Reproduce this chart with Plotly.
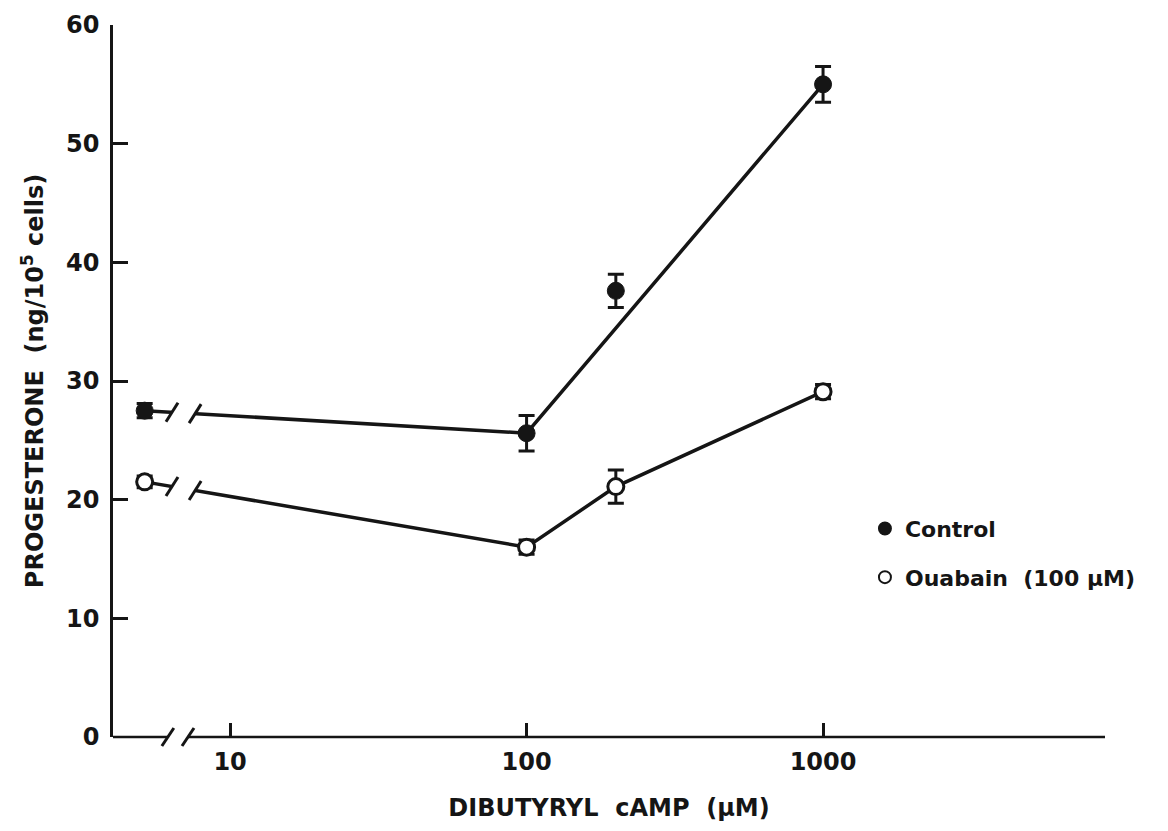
import numpy as np
import plotly.graph_objects as go

# ---- data ----
dose_labels = ["0", "100", "200", "1000"]          # dibutyryl cAMP, µM
dose_plot_pos = [5.15, 100, 200, 1000]             # zero dose drawn left of the axis break
control_mean = [27.5, 25.6, 37.6, 55.0]
control_err = [0.6, 1.5, 1.4, 1.5]
ouabain_mean = [21.5, 16.0, 21.1, 29.1]
ouabain_err = [0.5, 0.6, 1.4, 0.6]
control_line_idx = [0, 1, 3]                       # points joined by the drawn control line
ouabain_line_idx = [0, 1, 2, 3]
x_tick_vals = [10, 100, 1000]
x_tick_text = ["10", "100", "1000"]
y_tick_vals = [0, 10, 20, 30, 40, 50, 60]

INK = "#151515"
FONT = "DejaVu Sans"
x_log_range = [0.605, 3.951]
y_range = [0, 60]
break_px = [0.804, 0.882]      # log10 positions of break marks on data lines
axis_break = [0.79, 0.858]     # log10 positions of break marks on x axis

fig = go.Figure()

def sub(arr, idx):
    return [arr[i] for i in idx]

fig.add_trace(go.Scatter(x=sub(dose_plot_pos, control_line_idx), y=sub(control_mean, control_line_idx),
                         mode="lines", line=dict(color=INK, width=3.5), showlegend=False, hoverinfo="skip"))
fig.add_trace(go.Scatter(x=sub(dose_plot_pos, ouabain_line_idx), y=sub(ouabain_mean, ouabain_line_idx),
                         mode="lines", line=dict(color=INK, width=3.5), showlegend=False, hoverinfo="skip"))

fig.add_trace(go.Scatter(x=dose_plot_pos, y=control_mean, mode="markers", name="Control",
                         legendgroup="c",
                         marker=dict(symbol="circle", size=17, color=INK, line=dict(color=INK, width=1)),
                         error_y=dict(type="data", array=control_err, visible=True, color=INK,
                                      thickness=3, width=8),
                         text=dose_labels))
fig.add_trace(go.Scatter(x=dose_plot_pos, y=ouabain_mean, mode="markers", name="Ouabain  (100 μM)",
                         legendgroup="o",
                         marker=dict(symbol="circle", size=16, color="white", line=dict(color=INK, width=3)),
                         error_y=dict(type="data", array=ouabain_err, visible=True, color=INK,
                                      thickness=3, width=8),
                         text=dose_labels))

def to_px(lv):
    return (lv - x_log_range[0]) / (x_log_range[1] - x_log_range[0])

def to_py(v):
    return (v - y_range[0]) / (y_range[1] - y_range[0])

pw = 1 / 992   # paper units per pixel (x)
ph = 1 / 712   # paper units per pixel (y)

shapes = []
# break marks on the two data lines (gap between zero-dose point and 100 µM)
lx0, lx1 = np.log10(dose_plot_pos[0]), np.log10(dose_plot_pos[1])
for means in (control_mean, ouabain_mean):
    ys = [to_py(means[0] + (means[1] - means[0]) * (b - lx0) / (lx1 - lx0)) for b in break_px]
    shapes.append(dict(type="rect", xref="paper", yref="paper", x0=to_px(break_px[0]), x1=to_px(break_px[1]),
                       y0=min(ys) - 4 * ph, y1=max(ys) + 4 * ph,
                       fillcolor="white", line=dict(width=0), layer="above"))
    for b, yy in zip(break_px, ys):
        xp = to_px(b)
        shapes.append(dict(type="line", xref="paper", yref="paper",
                           x0=xp - 6 * pw, x1=xp + 6 * pw, y0=yy - 9.5 * ph, y1=yy + 9.5 * ph,
                           line=dict(color=INK, width=3), layer="above"))

# x axis line drawn in two pieces with a break
shapes.append(dict(type="line", xref="paper", yref="paper", x0=0, x1=to_px(axis_break[0]), y0=0, y1=0,
                   line=dict(color=INK, width=2.5)))
shapes.append(dict(type="line", xref="paper", yref="paper", x0=to_px(axis_break[1]), x1=1, y0=0, y1=0,
                   line=dict(color=INK, width=2.5)))
for b in axis_break:
    xp = to_px(b)
    shapes.append(dict(type="line", xref="paper", yref="paper",
                       x0=xp - 6 * pw, x1=xp + 6 * pw, y0=-9 * ph, y1=9 * ph,
                       line=dict(color=INK, width=3)))

BOLD = dict(family=FONT, color=INK, weight="bold")

fig.update_layout(
    width=1168, height=831,
    margin=dict(l=113, r=63, t=25, b=94),
    paper_bgcolor="white", plot_bgcolor="white",
    font=dict(family=FONT, color=INK),
    shapes=shapes,
    showlegend=True,
    legend=dict(x=0.758, y=0.322, xanchor="left", yanchor="top", bgcolor="rgba(0,0,0,0)",
                font=dict(size=22, **BOLD), traceorder="grouped",
                tracegroupgap=17, itemsizing="constant"),
    xaxis=dict(type="log", range=x_log_range, showgrid=False, zeroline=False, showline=False,
               tickvals=x_tick_vals, ticktext=x_tick_text, ticks="inside", ticklen=14,
               tickwidth=2.5, tickcolor=INK, tickfont=dict(size=24, **BOLD),
               ticklabelstandoff=8,
               title=dict(text="DIBUTYRYL  cAMP  (μM)", font=dict(size=24, **BOLD),
                          standoff=24)),
    yaxis=dict(range=y_range, showgrid=False, zeroline=False, showline=True, linecolor=INK,
               linewidth=2.5, tickvals=y_tick_vals, ticks="inside", ticklen=15, tickwidth=2.5,
               tickcolor=INK, tickfont=dict(size=24, **BOLD), ticklabelstandoff=6,
               title=dict(text="PROGESTERONE  (ng/10<sup>5</sup> cells)",
                          font=dict(size=24, **BOLD), standoff=16)),
)

fig.write_html("out.html")
